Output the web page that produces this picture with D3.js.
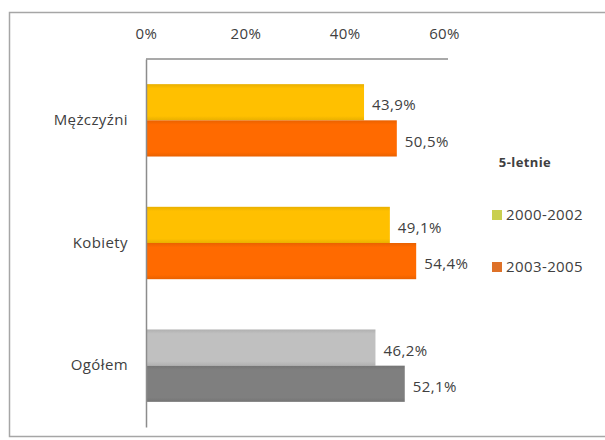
<!DOCTYPE html>
<html lang="pl">
  <head>
    <meta charset="utf-8">
    <title>5-letnie</title>
    <script src="https://d3js.org/d3.v7.min.js"></script>
    <style>
      body { margin: 0; background: #fff; }
      text { font-family: "Open Sans", Lato, sans-serif; letter-spacing: 0.4px; }
    </style>
  </head>
  <body>
    <svg id="chart"></svg>
    <script>
      // data
      let categories = ["Mężczyźni", "Kobiety", "Ogółem"];
      let seriesNames = ["2000-2002", "2003-2005"];
      let values2000 = [43.9, 49.1, 46.2];
      let values2003 = [50.5, 54.4, 52.1];
      let tickValues = [0, 20, 40, 60];
      let legendTitle = "5-letnie";

      // colours: per category, per series (Ogółem is grey)
      let barColors = [
        ["#ffc000", "#ff6a00"],
        ["#ffc000", "#ff6a00"],
        ["#c0c0c0", "#7f7f7f"]
      ];
      let legendColors = ["#c9cf4f", "#de7128"];

      let W = 605, H = 440;
      let svg = d3.select("#chart").attr("width", W).attr("height", H);

      // outer frame
      svg.append("rect")
        .attr("x", 9.5).attr("y", 12.5)
        .attr("width", 620).attr("height", 424)
        .attr("fill", "none")
        .attr("stroke", "#a6a6a6")
        .attr("stroke-width", 1.5);

      let x = d3.scaleLinear().domain([0, 60]).range([146, 444]);
      let y = d3.scaleBand().domain(categories).range([59, 427])
                .paddingInner(0.41).paddingOuter(0.205);
      let ySub = d3.scaleBand().domain(seriesNames).range([0, y.bandwidth()]);

      // gradients for the Excel-like shading
      let defs = svg.append("defs");
      barColors.forEach(function(pair, i) {
        pair.forEach(function(c, j) {
          let g = defs.append("linearGradient")
            .attr("id", "g" + i + "_" + j)
            .attr("x1", 0).attr("y1", 0).attr("x2", 0).attr("y2", 1);
          let dark = d3.color(c).darker(0.25);
          g.append("stop").attr("offset", "0%").attr("stop-color", dark);
          g.append("stop").attr("offset", "12%").attr("stop-color", c);
          g.append("stop").attr("offset", "88%").attr("stop-color", c);
          g.append("stop").attr("offset", "100%").attr("stop-color", dark);
        });
      });

      // bars
      let rows = categories.map(function(c, i) {
        return [
          {cat: c, i: i, j: 0, s: seriesNames[0], v: values2000[i]},
          {cat: c, i: i, j: 1, s: seriesNames[1], v: values2003[i]}
        ];
      }).flat();

      svg.selectAll("rect.bar")
        .data(rows)
        .enter()
        .append("rect")
        .attr("class", "bar")
        .attr("x", x(0))
        .attr("y", d => y(d.cat) + ySub(d.s))
        .attr("width", d => x(d.v) - x(0))
        .attr("height", ySub.bandwidth())
        .attr("fill", d => "url(#g" + d.i + "_" + d.j + ")");

      // value labels
      svg.selectAll("text.val")
        .data(rows)
        .enter()
        .append("text")
        .attr("class", "val")
        .attr("x", d => x(d.v) + 8)
        .attr("y", d => y(d.cat) + ySub(d.s) + ySub.bandwidth() / 2 + 3)
        .attr("dy", "0.35em")
        .attr("font-size", 15)
        .attr("fill", "#404040")
        .text(d => d3.format(".1f")(d.v).replace(".", ",") + "%");

      // axes
      let xAxis = d3.axisTop(x).tickValues(tickValues)
                    .tickFormat(d => d + "%").tickSize(0).tickPadding(20);
      let gx = svg.append("g").attr("transform", "translate(0,59)").call(xAxis);
      gx.select(".domain").attr("stroke", "#8c8c8c").attr("stroke-width", 1.5)
        .attr("d", "M" + x(0) + ",0H448");
      gx.selectAll("text").attr("font-size", 15).attr("fill", "#404040");

      let yAxis = d3.axisLeft(y).tickSize(0).tickPadding(18);
      let gy = svg.append("g").attr("transform", "translate(" + x(0) + ",0)").call(yAxis);
      gy.select(".domain").attr("stroke", "#8c8c8c").attr("stroke-width", 1.5);
      gy.selectAll("text").attr("font-size", 15).attr("fill", "#404040");

      // legend
      svg.append("text")
        .attr("x", 525).attr("y", 162)
        .attr("dy", "0.35em")
        .attr("text-anchor", "middle")
        .attr("font-size", 13)
        .attr("font-weight", "bold")
        .attr("fill", "#404040")
        .text(legendTitle);

      let legend = svg.selectAll("g.leg")
        .data(seriesNames)
        .enter()
        .append("g")
        .attr("class", "leg")
        .attr("transform", (d, i) => "translate(492," + (215 + i * 52) + ")");
      legend.append("rect")
        .attr("x", 0).attr("y", -5)
        .attr("width", 10).attr("height", 10)
        .attr("fill", (d, i) => legendColors[i]);
      legend.append("text")
        .attr("x", 14).attr("y", 0)
        .attr("dy", "0.35em")
        .attr("font-size", 15)
        .attr("fill", "#404040")
        .text(d => d);
    </script>
  </body>
</html>
